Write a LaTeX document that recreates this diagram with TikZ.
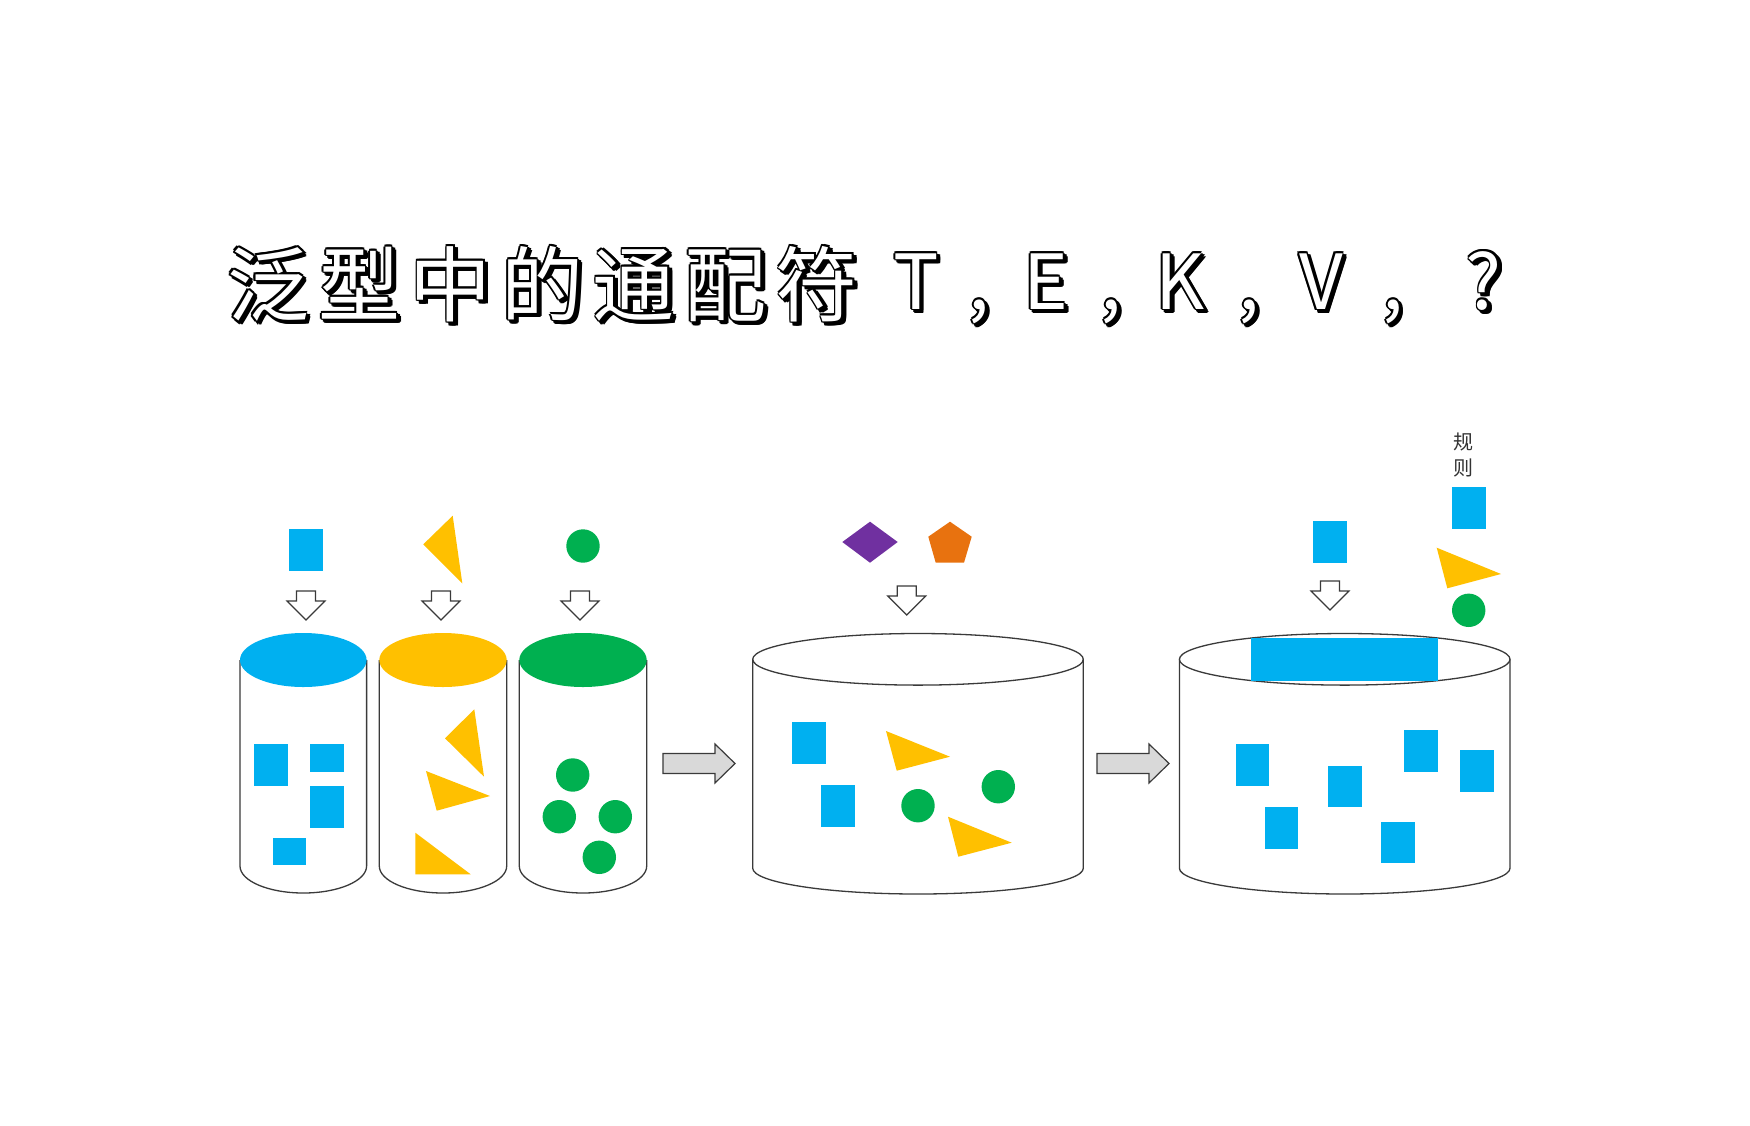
\documentclass[tikz,border=0pt]{standalone}
\usepackage{fontspec}
\setmainfont{Noto Sans CJK SC}
\definecolor{blueC}{HTML}{00B0F0}
\definecolor{yellowC}{HTML}{FFC000}
\definecolor{greenC}{HTML}{00B050}
\definecolor{purpleC}{HTML}{7030A0}
\definecolor{orangeC}{HTML}{E8720F}
\definecolor{lineC}{HTML}{3A3A3A}
\definecolor{grayFill}{HTML}{D9D9D9}
\definecolor{textC}{HTML}{333333}
\newcommand\tcj[1]{\makebox[45.75pt]{#1}}
\newcommand\tlt[2]{\makebox[#1]{\fontsize{38pt}{45pt}\selectfont\raisebox{3pt}{#2}}}
\newcommand\titletext{\tcj{泛}\tcj{型}\tcj{中}\tcj{的}\tcj{通}\tcj{配}\tcj{符}\tlt{53.25pt}{T}\tlt{9.75pt}{,}\tlt{57.25pt}{E}\tlt{7.75pt}{,}\tlt{61.25pt}{K}\tlt{7.75pt}{,}\tlt{64.25pt}{V}\tlt{7.75pt}{,}\tlt{83.25pt}{?}}
\begin{document}
\begin{tikzpicture}[x=0.5pt,y=-0.5pt,
  cyl/.style={draw=lineC, line width=0.65pt},
  ttl/.style={anchor=base west, inner sep=0pt, outer sep=0pt, font=\fontsize{41pt}{48pt}\selectfont},
  darrsty/.style={draw=lineC, line width=0.6pt, fill=white, line join=miter},
  rarrsty/.style={draw=lineC, line width=0.6pt, fill=grayFill},
  downarr/.pic={\draw[darrsty] (-9.5,0) -- (9.5,0) -- (9.5,10) -- (19,10) -- (0,29) -- (-19,10) -- (-9.5,10) -- cycle;},
  rightarr/.pic={\draw[rarrsty] (0,-10) -- (52,-10) -- (52,-19.5) -- (72,0) -- (52,19.5) -- (52,10) -- (0,10) -- cycle;}
]
\useasboundingbox (0,0) rectangle (1750,1125);
\fill[white] (0,0) rectangle (1750,1125);

% ---------- title ----------
\foreach \a in {0,45,...,315}{
  \node[ttl, text=black] (tsa\a) at ([shift={(\a:1.6)}]222.25,315) {\titletext};
  \node[ttl, text=black] (tsb\a) at ([shift={(\a:1.6)}]225.25,318) {\titletext};
}
\node[ttl, text=white] (title) at (222.25,315) {\titletext};

% ---------- rule label ----------
\node[font=\fontsize{10pt}{13pt}\selectfont, text=textC, align=center, inner sep=0pt] (rule) at (1463,455) {规\\则};

% ---------- items above ----------
\fill[blueC] (289,529) rectangle (323,571);
\fill[yellowC] (423.3,544.3) -- (452.7,515.7) -- (462.3,583.3) -- cycle;
\fill[greenC] (583,546) circle[radius=16.7];
\fill[purpleC] (842.3,542) -- (870,521.7) -- (897.7,542) -- (870,562.7) -- cycle;
\fill[orangeC] (950,521.7) -- (971.7,536.7) -- (964,562.7) -- (935.7,562.7) -- (928.3,536.7) -- cycle;
\fill[blueC] (1313.3,521) rectangle (1347.3,562.7);
\fill[blueC] (1451.7,486.7) rectangle (1485.7,528.7);
\fill[yellowC] (1436.7,547.7) -- (1501,574) -- (1447.3,588.3) -- cycle;
\fill[greenC] (1468.7,610.3) circle[radius=16.7];

% ---------- down arrows ----------
\pic at (306,591) {downarr};
\pic at (441,591) {downarr};
\pic at (580,591) {downarr};
\pic at (906.7,586) {downarr};
\pic at (1330,581) {downarr};

% ---------- small cylinders ----------
\draw[cyl] (240,660) -- (240,866) arc[start angle=180, end angle=0, x radius=63.3, y radius=27] -- (366.6,660);
\fill[blueC] (303.3,660) ellipse[x radius=63.3, y radius=27];
\draw[cyl] (379.3,660) -- (379.3,866) arc[start angle=180, end angle=0, x radius=63.7, y radius=27] -- (506.7,660);
\fill[yellowC] (443,660) ellipse[x radius=63.7, y radius=27];
\draw[cyl] (519.3,660) -- (519.3,866) arc[start angle=180, end angle=0, x radius=63.7, y radius=27] -- (646.7,660);
\fill[greenC] (583,660) ellipse[x radius=63.7, y radius=27];

% contents A
\fill[blueC] (254,744) rectangle (288,786);
\fill[blueC] (310,744) rectangle (344,772);
\fill[blueC] (310,786) rectangle (344,828);
\fill[blueC] (273,838) rectangle (306,865);
% contents B
\fill[yellowC] (445,738.3) -- (474.3,709.3) -- (484,776.7) -- cycle;
\fill[yellowC] (426,771) -- (490,796) -- (436.7,810.7) -- cycle;
\fill[yellowC] (415.3,832.7) -- (415.3,874.3) -- (470.7,874.3) -- cycle;
% contents C
\fill[greenC] (572.7,775) circle[radius=16.7];
\fill[greenC] (559.3,816.7) circle[radius=16.7];
\fill[greenC] (615.3,816.7) circle[radius=16.7];
\fill[greenC] (599.3,857.3) circle[radius=16.7];

% ---------- gray arrows ----------
\pic at (663,763.5) {rightarr};
\pic at (1097,763.5) {rightarr};

% ---------- middle cylinder ----------
\draw[cyl] (752.7,659.3) -- (752.7,868.2) arc[start angle=180, end angle=0, x radius=165.3, y radius=25.8] -- (1083.3,659.3);
\draw[cyl] (918,659.3) ellipse[x radius=165.3, y radius=25.8];
\fill[blueC] (791.7,722.3) rectangle (825.7,764);
\fill[blueC] (820.7,784.7) rectangle (854.7,826.7);
\fill[yellowC] (886,731) -- (950,756.7) -- (896.7,770.7) -- cycle;
\fill[yellowC] (948,816.7) -- (1011.7,842.7) -- (958.3,856.7) -- cycle;
\fill[greenC] (918,805.7) circle[radius=16.7];
\fill[greenC] (998.3,786.7) circle[radius=16.7];

% ---------- right cylinder ----------
\draw[cyl] (1179.4,659.3) -- (1179.4,868.2) arc[start angle=180, end angle=0, x radius=165.3, y radius=25.8] -- (1510,659.3);
\draw[cyl] (1344.7,659.3) ellipse[x radius=165.3, y radius=25.8];
\fill[blueC] (1250.7,638.3) rectangle (1437.7,681);
\fill[blueC] (1235.7,744.3) rectangle (1269.3,785.7);
\fill[blueC] (1328,766) rectangle (1361.7,807.3);
\fill[blueC] (1404.3,730.3) rectangle (1437.7,772.3);
\fill[blueC] (1460,750.3) rectangle (1493.7,791.7);
\fill[blueC] (1264.7,806.7) rectangle (1298.3,848.7);
\fill[blueC] (1381,821.7) rectangle (1414.7,863.3);
\end{tikzpicture}
\end{document}
